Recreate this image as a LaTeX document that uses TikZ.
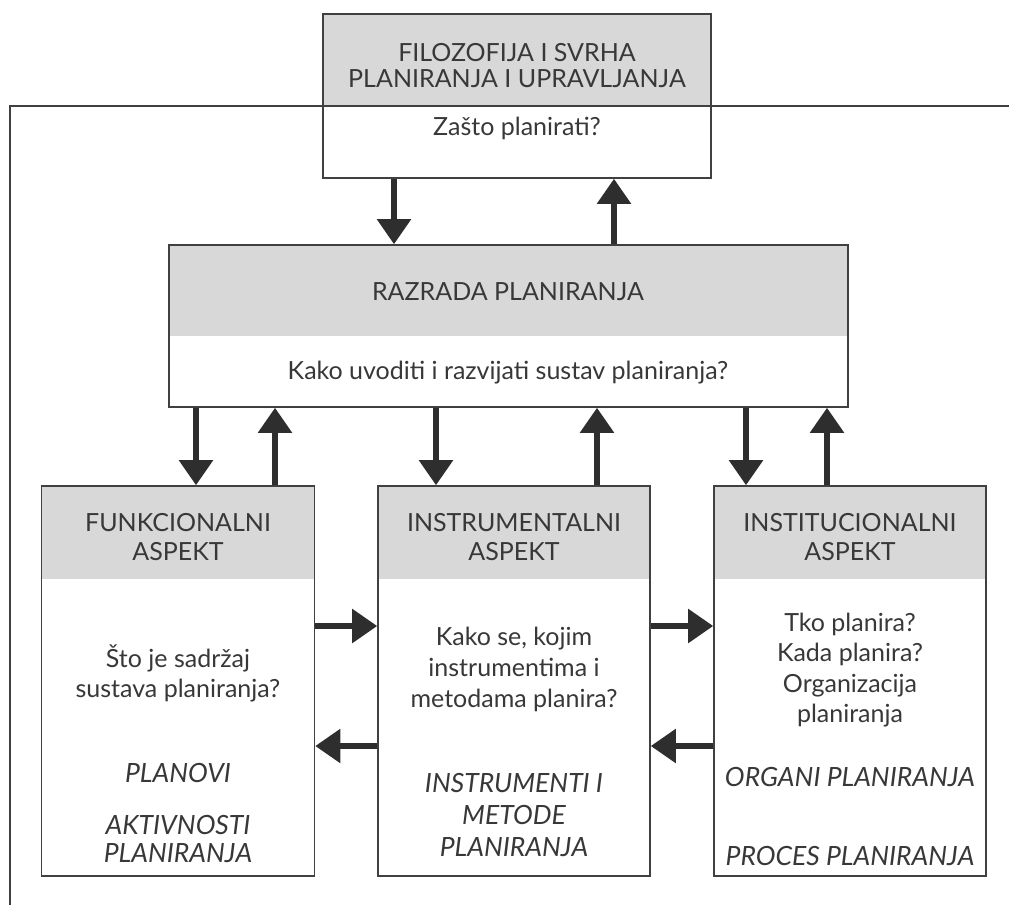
\documentclass[tikz,border=0pt]{standalone}
\usepackage{fontspec}
\setmainfont{Lato}
\usetikzlibrary{arrows.meta,calc}
\definecolor{linec}{HTML}{404040}
\definecolor{hdr}{HTML}{D8D8D8}
\definecolor{textc}{HTML}{383838}
\definecolor{arrc}{HTML}{2E2E2E}
\begin{document}
\begin{tikzpicture}[x=1pt,y=-1pt,
  box/.style={draw=linec, line width=1.6pt, fill=white, inner sep=0pt,
    path picture={\fill[hdr] (path picture bounding box.north west) rectangle ([yshift=-#1pt]path picture bounding box.north east);}},
  txt/.style={text=textc, align=center, inner sep=0pt, font=\fontsize{25}{30}\selectfont},
  hdtxt/.style={txt, font=\fontsize{25}{26}\selectfont},
  ittxt/.style={txt, font=\fontsize{26.5}{30}\selectfont\itshape},
  arr/.style={draw=arrc, line width=5.5pt, -{Triangle[width=33pt,length=25pt]}},
  frame/.style={draw=linec, line width=2.6pt}]
\useasboundingbox (0,0) rectangle (1009,905);
% boxes
\node[box=92, minimum width=388pt, minimum height=164pt] (top) at (517,96) {};
\node[box=91, minimum width=679pt, minimum height=162pt] (mid) at (508.5,326) {};
\node[box=93, minimum width=273pt, minimum height=390pt] (L) at (178,681) {};
\node[box=93, minimum width=272pt, minimum height=390pt] (M) at (514,681) {};
\node[box=93, minimum width=272pt, minimum height=390pt] (R) at (850,681) {};
% outer frame
\coordinate (fr) at (1009,106);
\coordinate (fl) at (10,106);
\coordinate (fb) at (10,905);
\draw[frame] (fr) -- (fl) -- (fb);
% texts
\node[hdtxt] (t1) at (517,66) {FILOZOFIJA I SVRHA\\PLANIRANJA I UPRAVLJANJA};
\node[txt] (t2) at (517,128) {Zašto planirati?};
\node[txt] (m1) at (508,292) {RAZRADA PLANIRANJA};
\node[txt] (m2) at (508,373) {Kako uvoditi i razvijati sustav planiranja?};
\node[hdtxt, font=\fontsize{25}{29}\selectfont] (l1) at (178,537) {FUNKCIONALNI\\ASPEKT};
\node[txt] (l2) at (178,673) {Što je sadržaj\\sustava planiranja?};
\node[ittxt] (l3) at (178,773) {PLANOVI};
\node[ittxt, font=\fontsize{26.5}{28}\selectfont\itshape] (l4) at (178,839) {AKTIVNOSTI\\PLANIRANJA};
\node[hdtxt, font=\fontsize{25}{29}\selectfont] (c1) at (514,537) {INSTRUMENTALNI\\ASPEKT};
\node[txt, font=\fontsize{25}{31}\selectfont] (c2) at (514,669) {Kako se, kojim\\instrumentima i\\metodama planira?};
\node[ittxt, font=\fontsize{26.5}{32}\selectfont\itshape] (c3) at (514,815) {INSTRUMENTI I\\METODE\\PLANIRANJA};
\node[hdtxt, font=\fontsize{25}{29}\selectfont] (r1) at (850,537) {INSTITUCIONALNI\\ASPEKT};
\node[txt, font=\fontsize{25}{30.5}\selectfont] (r2) at (850,670) {Tko planira?\\Kada planira?\\Organizacija\\planiranja};
\node[ittxt] (r3) at (850,777) {ORGANI PLANIRANJA};
\node[ittxt] (r4) at (850,856) {PROCES PLANIRANJA};
% arrow anchors
\coordinate (a1) at ($(top.south)+(-123,0)$);
\coordinate (a2) at ($(top.south)+(97,0)$);
\coordinate (d1) at ($(L.north)+(18,0)$);
\coordinate (u1) at ($(L.north)+(97,0)$);
\coordinate (d2) at ($(M.north)+(-78,0)$);
\coordinate (u2) at ($(M.north)+(83,0)$);
\coordinate (d3) at ($(R.north)+(-104,0)$);
\coordinate (u3) at ($(R.north)+(-23,0)$);
\coordinate (hr) at (0,626);
\coordinate (hl) at (0,746);
% vertical arrows
\draw[arr] (a1) -- (a1 |- mid.north);
\draw[arr] (a2 |- mid.north) -- (a2);
\draw[arr] (d1 |- mid.south) -- (d1);
\draw[arr] (u1) -- (u1 |- mid.south);
\draw[arr] (d2 |- mid.south) -- (d2);
\draw[arr] (u2) -- (u2 |- mid.south);
\draw[arr] (d3 |- mid.south) -- (d3);
\draw[arr] (u3) -- (u3 |- mid.south);
% horizontal arrows
\draw[arr] (L.east |- hr) -- (M.west |- hr);
\draw[arr] (M.east |- hr) -- (R.west |- hr);
\draw[arr] (M.west |- hl) -- (L.east |- hl);
\draw[arr] (R.west |- hl) -- (M.east |- hl);
\end{tikzpicture}
\end{document}
